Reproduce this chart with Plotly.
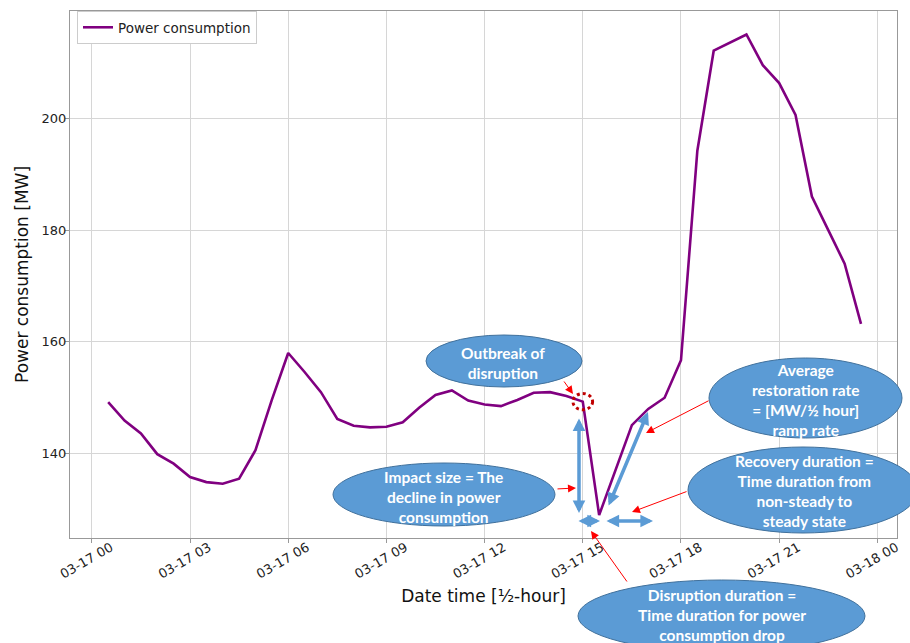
import pandas as pd
import plotly.graph_objects as go

# Half-hourly power consumption on 17 March, 00:30 .. 23:30
times = pd.date_range("2020-03-17 00:30", "2020-03-17 23:30", freq="30min")
power_mw = [
    149.2, 145.9, 143.6, 139.9, 138.2, 135.8, 134.9, 134.6, 135.5, 140.6,
    149.6, 158.0, 154.6, 151.0, 146.2, 145.0, 144.7, 144.8, 145.6, 148.2,
    150.5, 151.3, 149.5, 148.8, 148.5, 149.6, 150.9, 151.0, 150.3, 149.3,
    129.0, 137.0, 145.1, 148.0, 150.0, 156.7, 194.2, 212.1, 213.5, 215.0,
    209.5, 206.3, 200.6, 186.0, 180.0, 174.0, 163.2,
]
series_name = "Power consumption"
x_title = "Date time [½-hour]"
y_title = "Power consumption [MW]"
y_ticks = [140, 160, 180, 200]

# Callout bubbles: label lines
callouts = {
    "outbreak": ["Outbreak of", "disruption"],
    "impact": ["Impact size = The", "decline in power", "consumption"],
    "rate": ["Average", "restoration rate", "= [MW/½ hour]", "ramp rate"],
    "recovery": ["Recovery duration =", "Time duration from", "non-steady to", "steady state"],
    "disruption": ["Disruption duration =", "Time duration for power", "consumption drop"],
}

# ---- layout geometry (pixels of the 910x643 page) ----
FIG_W, FIG_H = 910, 643
L, R, T, B = 70, 897, 11, 538
PW, PH = R - L, B - T


def px(x):
    return (x - L) / PW


def py(y):
    return (B - y) / PH


BUBBLE_FILL = "#5B9BD5"
BUBBLE_EDGE = "#41719C"
ARROW_BLUE = "#5B9BD5"
ARROW_RED = "#FF0000"

# bubble boxes: left, right, top, bottom, text centre x, text centre y
bubble_geom = {
    "outbreak": (426, 582, 335, 387, 503, 363),
    "impact": (333, 555, 463, 526, 443, 497),
    "rate": (709, 902, 358, 438, 806, 400),
    "recovery": (688, 918, 447, 533, 804, 491),
    "disruption": (578, 865, 580, 652, 722, 615),
}

# red pointer arrows: (tail x, tail y, head x, head y)
red_arrows = [
    (563, 380, 573, 394),
    (556, 489, 576, 488),
    (710, 400, 646, 433),
    (688, 491, 632, 512),
    (628, 583, 591, 531),
]

# blue double-headed measuring arrows
blue_arrows = [
    (579, 417, 579, 513),
    (577, 521, 600, 521),
    (605, 521, 653, 521),
    (608, 507, 648, 412),
]

fig = go.Figure()
fig.add_trace(go.Scatter(
    x=times, y=power_mw, mode="lines", name=series_name,
    line=dict(color="#800080", width=2.6),
))

shapes = []
annotations = []

# dotted ring around the outbreak point (15:00)
outbreak_t = pd.Timestamp("2020-03-17 15:00")
outbreak_v = power_mw[list(times).index(outbreak_t)]
shapes.append(dict(
    type="circle", xref="x", yref="y",
    x0=outbreak_t - pd.Timedelta(minutes=18), x1=outbreak_t + pd.Timedelta(minutes=18),
    y0=outbreak_v - 1.45, y1=outbreak_v + 1.45,
    line=dict(color="#C00000", width=3, dash="dot"), layer="above",
))

for key, (x0, x1, y0, y1, tx, ty) in bubble_geom.items():
    shapes.append(dict(
        type="circle", xref="paper", yref="paper",
        x0=px(x0), x1=px(x1), y0=py(y1), y1=py(y0),
        fillcolor=BUBBLE_FILL, line=dict(color=BUBBLE_EDGE, width=1), layer="above",
    ))
    annotations.append(dict(
        xref="paper", yref="paper", x=px(tx), y=py(ty),
        text="<br>".join(f"<b>{s}</b>" for s in callouts[key]),
        showarrow=False, xanchor="center", yanchor="middle",
        font=dict(family="Lato", size=15.5, color="white"),
    ))

for tx, ty, hx, hy in red_arrows:
    annotations.append(dict(
        xref="paper", yref="paper", x=px(hx), y=py(hy),
        ax=tx - hx, ay=ty - hy, text="", showarrow=True,
        arrowhead=2, arrowsize=1.6, arrowwidth=1, arrowcolor=ARROW_RED,
        standoff=0, startstandoff=0,
    ))

for sx, sy, ex, ey in blue_arrows:
    annotations.append(dict(
        xref="paper", yref="paper", x=px(ex), y=py(ey),
        ax=sx - ex, ay=sy - ey, text="", showarrow=True,
        arrowhead=2, arrowside="end+start", arrowsize=0.72, arrowwidth=3.5,
        arrowcolor=ARROW_BLUE, standoff=0, startstandoff=0,
    ))

axis_common = dict(
    showgrid=True, gridcolor="#d6d6d6", gridwidth=1,
    showline=True, linecolor="#999999", linewidth=1.2, mirror=True,
    ticks="outside", ticklen=4, tickcolor="#999999",
    tickfont=dict(family="DejaVu Sans", size=13, color="#222222"),
    zeroline=False, automargin=False,
)

fig.update_layout(
    width=FIG_W, height=FIG_H,
    margin=dict(l=L, r=FIG_W - R, t=T, b=FIG_H - B),
    paper_bgcolor="white", plot_bgcolor="white",
    shapes=shapes, annotations=annotations,
    showlegend=True,
    legend=dict(
        x=px(77), y=py(11), xanchor="left", yanchor="top",
        bgcolor="white", bordercolor="#cccccc", borderwidth=1,
        font=dict(family="DejaVu Sans", size=13.5, color="#222222"),
        itemwidth=30,
    ),
    xaxis=dict(
        **axis_common,
        range=["2020-03-16 23:20", "2020-03-18 00:36"],
        tick0="2020-03-17 00:00", dtick=3 * 3600 * 1000,
        tickformat="%m-%d %H", tickangle=-30, ticklabelshift=19,
        ticklabelstandoff=-8, ticklabeloverflow="allow",
        title=dict(text=x_title, font=dict(family="DejaVu Sans", size=17, color="#111111"), standoff=9),
    ),
    yaxis=dict(
        **axis_common,
        range=[124.9, 219.2], tickvals=y_ticks,
        ticklabelstandoff=-4,
        title=dict(text=y_title, font=dict(family="DejaVu Sans", size=17, color="#111111"), standoff=8),
    ),
)

fig.write_html("out.html")
